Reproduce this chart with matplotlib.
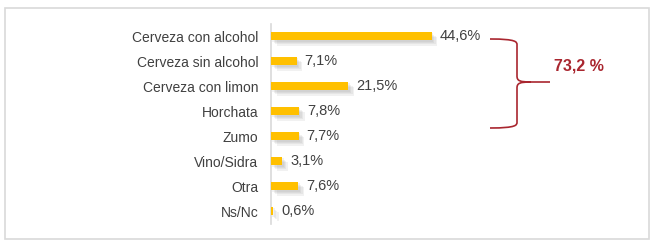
import matplotlib
matplotlib.use("Agg")
import matplotlib.pyplot as plt
import matplotlib.patches as patches
import matplotlib.patheffects as pe
from matplotlib.path import Path
from matplotlib.transforms import Affine2D

categories = ["Cerveza con alcohol", "Cerveza sin alcohol", "Cerveza con limon",
              "Horchata", "Zumo", "Vino/Sidra", "Otra", "Ns/Nc"]
values = [44.6, 7.1, 21.5, 7.8, 7.7, 3.1, 7.6, 0.6]
group_size = 3  # first three beers are grouped by the brace

W, H = 657, 247
plt.rcParams['font.family'] = ['Liberation Sans', 'DejaVu Sans']

fig = plt.figure(figsize=(W / 100, H / 100), dpi=100)
# pixel -> figure transform (origin top-left)
px = Affine2D().scale(1 / W, -1 / H).translate(0, 1) + fig.transFigure

# outer frame
fig.patches.append(patches.Rectangle((5, 8), 644, 231, fill=False,
                                     edgecolor='#D9D9D9', lw=1.2, transform=px))

ax = fig.add_axes([271 / W, (H - 223.5) / H, 360.3 / W, 200 / H])
ax.set_xlim(0, 100)
ax.set_ylim(len(categories) - 0.5, -0.5)
ypos = list(range(len(categories)))
bars = ax.barh(ypos, values, height=0.33, color='#FFC000', zorder=3)
soft = [pe.SimplePatchShadow(offset=(o, -o), shadow_rgbFace='#909090', alpha=0.12)
        for o in (1.0, 2.0, 3.0, 4.0)]
for b in bars:
    b.set_path_effects(soft + [pe.Normal()])

for y, v in zip(ypos, values):
    ax.text(v + 2.2, y, f"{v:.1f}%".replace('.', ','), va='center', ha='left',
            fontsize=10.5, color='#404040')

ax.set_yticks(ypos)
ax.set_yticklabels(categories, fontsize=10, color='#404040')
ax.tick_params(axis='y', length=0, pad=9)
ax.set_xticks([])
for s in ['top', 'right', 'bottom']:
    ax.spines[s].set_visible(False)
ax.spines['left'].set_color('#D9D9D9')
ax.spines['left'].set_linewidth(1.2)

# brace
top, bot, mid = 39, 128, 82
x0, xv, xt = 490, 517, 550
verts = [(x0, top), (xv, top), (xv, top + 3), (xv, top + 6),
         (xv, mid - 6),
         (xv, mid - 1), (xv + 3, mid), (xv + 14, mid),
         (xt, mid),
         (xv + 14, mid), (xv + 3, mid), (xv, mid + 1), (xv, mid + 6),
         (xv, bot - 6),
         (xv, bot - 3), (xv, bot), (x0, bot)]
codes = [Path.MOVETO, Path.CURVE4, Path.CURVE4, Path.CURVE4,
         Path.LINETO,
         Path.CURVE4, Path.CURVE4, Path.CURVE4,
         Path.LINETO,
         Path.MOVETO, Path.CURVE4, Path.CURVE4, Path.CURVE4,
         Path.LINETO,
         Path.CURVE4, Path.CURVE4, Path.CURVE4]
fig.patches.append(patches.PathPatch(Path(verts, codes), fill=False,
                                     edgecolor='#A9262F', lw=1.2, transform=px))

total = sum(values[:group_size])
fig.text(579, 66, f"{total:.1f} %".replace('.', ','), transform=px,
         ha='center', va='center', fontsize=11.5, fontweight='bold', color='#A9262F')

fig.savefig("out.png", dpi=100)
